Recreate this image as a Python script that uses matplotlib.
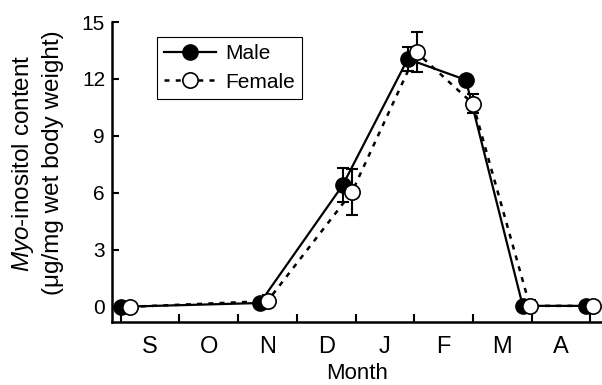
import numpy as np
import matplotlib
matplotlib.use("Agg")
import matplotlib.pyplot as plt

months = ["S", "O", "N", "D", "J", "F", "M", "A"]

male_x = [0.0, 2.37, 3.78, 4.89, 5.88, 6.85, 7.92]
male_y = [0.0, 0.2, 6.4, 13.05, 11.95, 0.05, 0.05]
male_err = [0.0, 0.1, 0.9, 0.65, 0.2, 0.05, 0.05]

female_x = [0.15, 2.5, 3.94, 5.04, 6.0, 6.97, 8.04]
female_y = [0.0, 0.3, 6.05, 13.4, 10.7, 0.05, 0.05]
female_err = [0.0, 0.3, 1.2, 1.05, 0.5, 0.3, 0.05]


def main():
    plt.rcParams["font.family"] = ["Liberation Sans", "DejaVu Sans"]
    plt.rcParams["mathtext.fontset"] = "custom"
    plt.rcParams["mathtext.it"] = "Liberation Sans:italic"
    plt.rcParams["mathtext.rm"] = "Liberation Sans"

    fig = plt.figure(figsize=(6.02, 3.85), dpi=100)
    ax = fig.add_axes([112/602, 1-322/385, 490/602, 300/385])

    # error bars first, then lines + markers on top
    ax.errorbar(male_x, male_y, yerr=male_err, fmt="none", ecolor="black",
                capsize=4, elinewidth=1.5, capthick=1.5, zorder=2)
    ax.errorbar(female_x, female_y, yerr=female_err, fmt="none", ecolor="black",
                capsize=4, elinewidth=1.5, capthick=1.5, zorder=2)
    ax.plot(male_x, male_y, color="black", ls="-", lw=1.6,
            marker="o", ms=11, mfc="black", mec="black", label="Male", zorder=3)
    ax.plot(female_x, female_y, color="black", ls=(0, (2, 2.5)), lw=1.8,
            marker="o", ms=11, mfc="white", mec="black", mew=1.2,
            label="Female", zorder=4)

    ax.set_xlim(-0.15, 8.2)
    ax.set_ylim(-0.8, 15)
    ax.set_yticks([0, 3, 6, 9, 12, 15])
    ax.set_xticks(np.arange(0, 9))
    ax.set_xticklabels([])
    ax.set_xticks(np.arange(len(months)) + 0.5, minor=True)
    ax.set_xticklabels(months, minor=True)
    ax.tick_params(axis="x", which="minor", length=0, labelsize=17, pad=10)
    ax.tick_params(axis="x", which="major", direction="in", length=6, width=1.5)
    ax.tick_params(axis="y", direction="in", length=5, width=1.5, labelsize=15, pad=5)
    for s in ["top", "right"]:
        ax.spines[s].set_visible(False)
    for s in ["left", "bottom"]:
        ax.spines[s].set_linewidth(1.8)

    ax.set_xlabel("Month", fontsize=16, labelpad=4)
    ax.set_ylabel("$\\it{Myo}$-inositol content\n(μg/mg wet body weight)",
                  fontsize=17.5, linespacing=1.35)
    ax.yaxis.set_label_coords(-0.098, 0.53)

    leg = ax.legend(loc="upper left", bbox_to_anchor=(0.092, 0.95), fontsize=15,
                    fancybox=False, edgecolor="black", framealpha=1,
                    handlelength=2.5, borderpad=0.35, labelspacing=0.45,
                    handletextpad=0.4, borderaxespad=0)
    leg.get_frame().set_linewidth(0.8)

    fig.savefig("out.png", dpi=100)
    plt.close()


if __name__ == "__main__":
    main()
